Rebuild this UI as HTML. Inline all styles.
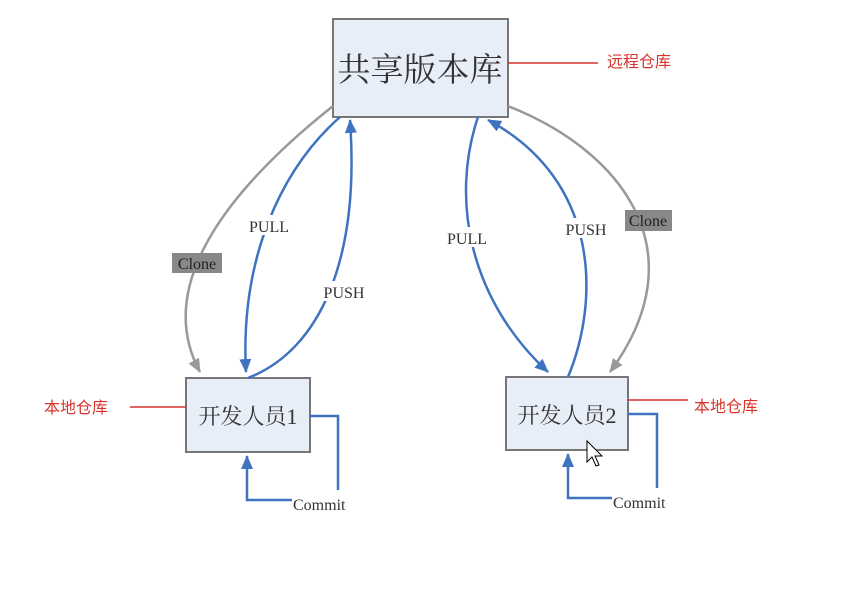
<!DOCTYPE html>
<html><head><meta charset="utf-8"><style>
html,body{margin:0;padding:0;background:#fff;}
svg{display:block;}
text{font-family:"Liberation Serif","Noto Serif CJK SC",serif;}
.r{font-family:"Liberation Sans","Noto Sans CJK SC",sans-serif;fill:#d9342b;font-size:16px;}
</style></head><body>
<svg width="845" height="608" viewBox="0 0 845 608" xmlns="http://www.w3.org/2000/svg">
<defs>
<marker id="ab" markerWidth="14" markerHeight="12" refX="13" refY="6" orient="auto" markerUnits="userSpaceOnUse"><path d="M0,0 L14,6 L0,12 z" fill="#3f73c0"/></marker>
<marker id="ag" markerWidth="14" markerHeight="12" refX="13" refY="6" orient="auto" markerUnits="userSpaceOnUse"><path d="M0,0 L14,6 L0,12 z" fill="#999"/></marker>
</defs>
<rect x="333" y="19" width="175" height="98" fill="#e8eef8" stroke="#777" stroke-width="2"/>
<text x="420" y="81" font-size="33" text-anchor="middle" fill="#333">共享版本库</text>
<rect x="186" y="378" width="124" height="74" fill="#e8eef8" stroke="#777" stroke-width="2"/>
<text x="248" y="424" font-size="22" text-anchor="middle" fill="#333">开发人员1</text>
<rect x="506" y="377" width="122" height="73" fill="#e8eef8" stroke="#777" stroke-width="2"/>
<text x="567" y="423" font-size="22" text-anchor="middle" fill="#333">开发人员2</text>
<line x1="508" y1="63" x2="598" y2="63" stroke="#d9342b" stroke-width="1.5"/>
<text class="r" x="607" y="67">远程仓库</text>
<line x1="130" y1="407" x2="186" y2="407" stroke="#d9342b" stroke-width="1.5"/>
<text class="r" x="44" y="413">本地仓库</text>
<line x1="628" y1="400" x2="688" y2="400" stroke="#d9342b" stroke-width="1.5"/>
<text class="r" x="694" y="412">本地仓库</text>
<path d="M333,106 C240,180 150,280 200,372" fill="none" stroke="#999" stroke-width="2.5" marker-end="url(#ag)"/>
<path d="M508,106 C620,150 700,250 610,372" fill="none" stroke="#999" stroke-width="2.5" marker-end="url(#ag)"/>
<path d="M340,117 C280,170 240,260 246,372" fill="none" stroke="#3f73c0" stroke-width="2.5" marker-end="url(#ab)"/>
<path d="M248,378 C320,350 360,260 350,120" fill="none" stroke="#3f73c0" stroke-width="2.5" marker-end="url(#ab)"/>
<path d="M478,117 C450,200 470,300 548,372" fill="none" stroke="#3f73c0" stroke-width="2.5" marker-end="url(#ab)"/>
<path d="M568,377 C600,300 600,180 488,120" fill="none" stroke="#3f73c0" stroke-width="2.5" marker-end="url(#ab)"/>
<polyline points="310,416 338,416 338,490" fill="none" stroke="#3f73c0" stroke-width="2.5"/>
<polyline points="292,500 247,500 247,456" fill="none" stroke="#3f73c0" stroke-width="2.5" marker-end="url(#ab)"/>
<polyline points="628,414 657,414 657,488" fill="none" stroke="#3f73c0" stroke-width="2.5"/>
<polyline points="612,498 568,498 568,454" fill="none" stroke="#3f73c0" stroke-width="2.5" marker-end="url(#ab)"/>
<rect x="243" y="215" width="52" height="20" fill="#fff"/>
<rect x="317" y="281" width="54" height="20" fill="#fff"/>
<rect x="441" y="227" width="52" height="20" fill="#fff"/>
<rect x="558" y="218" width="56" height="20" fill="#fff"/>
<rect x="172" y="253" width="50" height="20" fill="#888"/>
<rect x="625" y="210" width="47" height="21" fill="#888"/>
<text x="269" y="232" font-size="16" text-anchor="middle" fill="#333">PULL</text>
<text x="344" y="298" font-size="16" text-anchor="middle" fill="#333">PUSH</text>
<text x="467" y="244" font-size="16" text-anchor="middle" fill="#333">PULL</text>
<text x="586" y="235" font-size="16" text-anchor="middle" fill="#333">PUSH</text>
<text x="197" y="269" font-size="16" text-anchor="middle" fill="#222">Clone</text>
<text x="648" y="226" font-size="16" text-anchor="middle" fill="#222">Clone</text>
<text x="293" y="510" font-size="16" fill="#333">Commit</text>
<text x="613" y="508" font-size="16" fill="#333">Commit</text>
<path d="M587,441 L587,462 L592,457 L596,466 L599,465 L595,456 L602,456 z" fill="#fff" stroke="#000" stroke-width="1"/>
</svg>
</body></html>
